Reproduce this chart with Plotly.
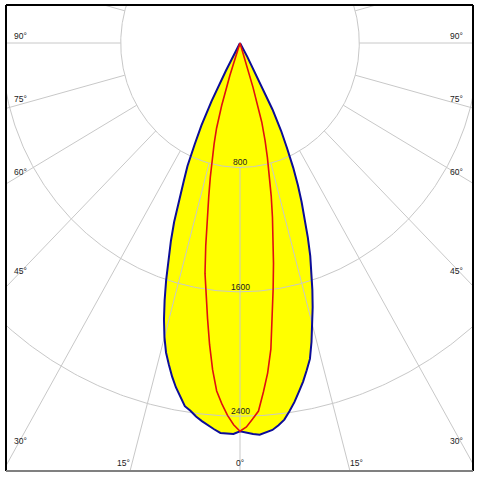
import numpy as np
import plotly.graph_objects as go

# ---------------- data (luminous intensity, cd) ----------------
# C0 plane (right half of the filled curve)
c0_angles = list(range(0, 31))
c0_cd = [2497, 2508, 2516, 2522, 2510, 2498, 2472, 2440, 2390, 2337, 2277, 2218, 2152,
         2085, 1982, 1875, 1768, 1660, 1551, 1447, 1329, 1210, 1103, 995, 877, 747,
         630, 480, 260, 100, 0]
# C180 plane (left half of the filled curve)
c180_angles = list(range(0, 31))
c180_cd = [2497, 2515, 2515, 2511, 2490, 2468, 2445, 2420, 2388, 2365, 2310, 2255, 2192,
           2122, 2051, 1958, 1850, 1729, 1603, 1478, 1355, 1233, 1087, 966, 866, 720,
           590, 420, 200, 40, 0]
# C90 plane (right half of the red curve)
c90_angles = list(range(0, 20))
c90_cd = [2497, 2470, 2420, 2370, 2250, 2129, 1980, 1773, 1597, 1436, 1285, 1141, 1007,
          885, 760, 650, 530, 300, 80, 0]
# C270 plane (left half of the red curve)
c270_angles = list(range(0, 21))
c270_cd = [2497, 2455, 2396, 2324, 2243, 2109, 1951, 1786, 1643, 1500, 1323, 1155, 1007,
           885, 770, 670, 570, 420, 220, 60, 0]

ring_values = [800, 1600, 2400, 3200]
ring_labels = ["800", "1600", "2400"]
spoke_angles = list(range(0, 181, 15))
side_label_angles = [30, 45, 60, 75, 90]
bottom_label_angles = [0, 15]

# ---------------- geometry ----------------
W, H = 481, 479
ML, MR, MT, MB = 6, 8, 5, 8
PX_X = 0.1491   # px per cd, horizontal
PX_Y = 0.1555   # px per cd, vertical
OX, OY = 234, 38  # origin position inside the plot area (px)
plot_w = W - ML - MR
plot_h = H - MT - MB
x_range = [-OX / PX_X, (plot_w - OX) / PX_X]
y_range = [-(plot_h - OY) / PX_Y, OY / PX_Y]


def to_xy(theta_deg, cd, side):
    t = np.radians(np.asarray(theta_deg, float))
    r = np.asarray(cd, float)
    return side * r * np.sin(t), -r * np.cos(t)


# filled curve C0 / C180
xl, yl = to_xy(c180_angles[::-1], c180_cd[::-1], -1)
xr, yr = to_xy(c0_angles, c0_cd, 1)
bx = np.concatenate([xl, xr[1:]])
by = np.concatenate([yl, yr[1:]])

# red curve C90 / C270
xl2, yl2 = to_xy(c270_angles[::-1], c270_cd[::-1], -1)
xr2, yr2 = to_xy(c90_angles, c90_cd, 1)
rx = np.concatenate([xl2, xr2[1:]])
ry = np.concatenate([yl2, yr2[1:]])

# grid rings
gx, gy = [], []
tt = np.radians(np.linspace(0, 360, 721))
for v in ring_values:
    gx += list(v * np.sin(tt)) + [None]
    gy += list(-v * np.cos(tt)) + [None]
# spokes starting at the first ring
sx, sy = [], []
for a in spoke_angles:
    for side in ([1] if a in (0, 180) else [-1, 1]):
        t = np.radians(a)
        r0, r1 = ring_values[0], 8000
        sx += [side * r0 * np.sin(t), side * r1 * np.sin(t), None]
        sy += [-r0 * np.cos(t), -r1 * np.cos(t), None]

grid_color = "#c8c8c8"
fig = go.Figure()
fig.add_trace(go.Scatter(x=bx, y=by, mode="lines", fill="toself", fillcolor="#ffff00",
                         line=dict(width=0), hoverinfo="skip"))
fig.add_trace(go.Scatter(x=gx, y=gy, mode="lines", line=dict(color=grid_color, width=1),
                         hoverinfo="skip"))
fig.add_trace(go.Scatter(x=sx, y=sy, mode="lines", line=dict(color=grid_color, width=1),
                         hoverinfo="skip"))
fig.add_trace(go.Scatter(x=bx, y=by, mode="lines", line=dict(color="#0c0c98", width=2),
                         name="C0-C180"))
fig.add_trace(go.Scatter(x=rx, y=ry, mode="lines", line=dict(color="#e01010", width=1.6),
                         name="C90-C270"))

font = dict(family="Liberation Sans, Arial, sans-serif", size=8.5, color="#222222")
ann = []
for v, lab in zip(ring_values, ring_labels):
    ann.append(dict(x=0, y=-v, text=lab, showarrow=False, yanchor="bottom",
                    xanchor="center", yshift=-2, font=font))
# side angle labels
lx_left = (14 - OX) / PX_X
lx_right = (plot_w - 17 - OX) / PX_X
for a in side_label_angles:
    yy = 0.0 if a == 90 else -abs(lx_left) / np.tan(np.radians(a))
    ys = 1.5 + 0.127 * (a - 45)
    for xx in (lx_left, lx_right):
        ann.append(dict(x=xx, y=yy, text=f"{a}°", showarrow=False, xanchor="center",
                        yanchor="middle", yshift=ys, font=font))
# bottom angle labels
ybot_label = -(plot_h - 8 - OY) / PX_Y
for a in bottom_label_angles:
    if a == 0:
        ann.append(dict(x=0, y=y_range[0], text="0°", showarrow=False, xanchor="center",
                        yanchor="bottom", yshift=1, font=font))
    else:
        xx = abs(ybot_label) * np.tan(np.radians(a))
        ann.append(dict(x=-xx, y=y_range[0], text=f"{a}°", showarrow=False,
                        xanchor="right", yanchor="bottom", yshift=1, font=font))
        ann.append(dict(x=xx, y=y_range[0], text=f"{a}°", showarrow=False,
                        xanchor="left", yanchor="bottom", yshift=1, font=font))

shapes = [
    dict(type="line", xref="paper", yref="paper", x0=0, x1=0, y0=0, y1=1,
         line=dict(color="#000000", width=2)),
    dict(type="line", xref="paper", yref="paper", x0=0, x1=1, y0=1, y1=1,
         line=dict(color="#000000", width=2)),
    dict(type="line", xref="paper", yref="paper", x0=1, x1=1, y0=0, y1=1,
         line=dict(color="#000000", width=2)),
    dict(type="line", xref="paper", yref="paper", x0=0, x1=1, y0=0, y1=0,
         line=dict(color="#808080", width=2)),
]

fig.update_layout(
    width=W, height=H,
    margin=dict(l=ML, r=MR, t=MT, b=MB),
    paper_bgcolor="white", plot_bgcolor="white",
    showlegend=False,
    xaxis=dict(range=x_range, visible=False, fixedrange=True),
    yaxis=dict(range=y_range, visible=False, fixedrange=True),
    annotations=ann,
    shapes=shapes,
)
fig.write_html(
    "out.html",
    config={"displayModeBar": False},
    post_script="document.body.style.margin='0';document.body.style.padding='0';"
                "document.body.style.overflow='hidden';",
)
